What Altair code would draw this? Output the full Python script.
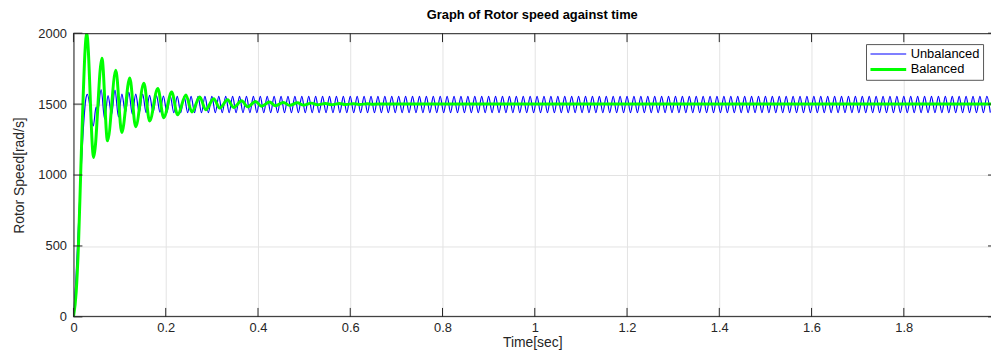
import altair as alt
import pandas as pd

# ---------------- data ----------------
series_names = ["Unbalanced", "Balanced"]
series_colors = ["#0000ff", "#00ff00"]
series_widths = [1.2, 3]

x_ticks = [0, 0.2, 0.4, 0.6, 0.8, 1.0, 1.2, 1.4, 1.6, 1.8]
y_ticks = [0, 500, 1000, 1500, 2000]

# Balanced (green): damped oscillation settling at 1500
green_t = [0, 0.006, 0.011, 0.016, 0.021, 0.025, 0.0287,
           0.0437, 0.0617, 0.0738, 0.0918, 0.1047, 0.1220, 0.1348, 0.1527,
           0.1650, 0.1828, 0.1957, 0.2129, 0.2258, 0.2437, 0.2566, 0.2738,
           0.2867, 0.3040, 0.3170, 0.3342, 0.3472, 0.3645, 0.3775, 0.3948,
           0.4078, 0.4250, 0.4380, 0.4553, 0.4683, 0.4856, 0.4986, 0.5158,
           0.5288, 0.5461, 0.5591, 0.5764, 0.5894, 0.6066, 0.6197, 0.6369,
           0.6500, 0.6672, 0.7000, 1.9890]
green_v = [0, 180, 520, 1050, 1550, 1870, 2000,
           1124, 1824, 1241, 1738, 1299, 1684, 1341, 1647,
           1381, 1610, 1404, 1585, 1425, 1565, 1445, 1550,
           1460, 1538, 1472, 1530, 1476, 1524, 1481, 1519,
           1485, 1515, 1488, 1512, 1491, 1509, 1493, 1507,
           1495, 1505, 1496, 1504, 1497, 1503, 1498, 1502,
           1499, 1501, 1500, 1500]

# Unbalanced (blue): start-up transient
blue_start_t = [0, 0.005, 0.009, 0.0165, 0.0225, 0.0265, 0.0300, 0.0430,
                0.0490, 0.0525, 0.0600, 0.0675, 0.0750, 0.0825, 0.0900,
                0.0975, 0.1050, 0.1125, 0.1200, 0.1275, 0.1350, 0.1425,
                0.1500, 0.1575, 0.1650, 0.1725, 0.1800, 0.1875, 0.1950,
                0.2025]
blue_start_v = [0, 250, 520, 1030, 1380, 1530, 1568, 1346,
                1480, 1450, 1603, 1395, 1560, 1425, 1598,
                1410, 1570, 1440, 1585, 1430, 1570, 1440,
                1570, 1440, 1562, 1443, 1560, 1443, 1557,
                1442]

# Unbalanced (blue): steady ripple, peaks and troughs
blue_steady_t = [
    0.2100, 0.2175, 0.2250, 0.2325, 0.2400, 0.2475, 0.2550, 0.2625,
    0.2700, 0.2775, 0.2850, 0.2925, 0.3000, 0.3075, 0.3150, 0.3225,
    0.3300, 0.3375, 0.3450, 0.3525, 0.3600, 0.3675, 0.3750, 0.3825,
    0.3900, 0.3975, 0.4050, 0.4125, 0.4200, 0.4275, 0.4350, 0.4425,
    0.4500, 0.4575, 0.4650, 0.4725, 0.4800, 0.4875, 0.4950, 0.5025,
    0.5100, 0.5175, 0.5250, 0.5325, 0.5400, 0.5475, 0.5550, 0.5625,
    0.5700, 0.5775, 0.5850, 0.5925, 0.6000, 0.6075, 0.6150, 0.6225,
    0.6300, 0.6375, 0.6450, 0.6525, 0.6600, 0.6675, 0.6750, 0.6825,
    0.6900, 0.6975, 0.7050, 0.7125, 0.7200, 0.7275, 0.7350, 0.7425,
    0.7500, 0.7575, 0.7650, 0.7725, 0.7800, 0.7875, 0.7950, 0.8025,
    0.8100, 0.8175, 0.8250, 0.8325, 0.8400, 0.8475, 0.8550, 0.8625,
    0.8700, 0.8775, 0.8850, 0.8925, 0.9000, 0.9075, 0.9150, 0.9225,
    0.9300, 0.9375, 0.9450, 0.9525, 0.9600, 0.9675, 0.9750, 0.9825,
    0.9900, 0.9975, 1.0050, 1.0125, 1.0200, 1.0275, 1.0350, 1.0425,
    1.0500, 1.0575, 1.0650, 1.0725, 1.0800, 1.0875, 1.0950, 1.1025,
    1.1100, 1.1175, 1.1250, 1.1325, 1.1400, 1.1475, 1.1550, 1.1625,
    1.1700, 1.1775, 1.1850, 1.1925, 1.2000, 1.2075, 1.2150, 1.2225,
    1.2300, 1.2375, 1.2450, 1.2525, 1.2600, 1.2675, 1.2750, 1.2825,
    1.2900, 1.2975, 1.3050, 1.3125, 1.3200, 1.3275, 1.3350, 1.3425,
    1.3500, 1.3575, 1.3650, 1.3725, 1.3800, 1.3875, 1.3950, 1.4025,
    1.4100, 1.4175, 1.4250, 1.4325, 1.4400, 1.4475, 1.4550, 1.4625,
    1.4700, 1.4775, 1.4850, 1.4925, 1.5000, 1.5075, 1.5150, 1.5225,
    1.5300, 1.5375, 1.5450, 1.5525, 1.5600, 1.5675, 1.5750, 1.5825,
    1.5900, 1.5975, 1.6050, 1.6125, 1.6200, 1.6275, 1.6350, 1.6425,
    1.6500, 1.6575, 1.6650, 1.6725, 1.6800, 1.6875, 1.6950, 1.7025,
    1.7100, 1.7175, 1.7250, 1.7325, 1.7400, 1.7475, 1.7550, 1.7625,
    1.7700, 1.7775, 1.7850, 1.7925, 1.8000, 1.8075, 1.8150, 1.8225,
    1.8300, 1.8375, 1.8450, 1.8525, 1.8600, 1.8675, 1.8750, 1.8825,
    1.8900, 1.8975, 1.9050, 1.9125, 1.9200, 1.9275, 1.9350, 1.9425,
    1.9500, 1.9575, 1.9650, 1.9725, 1.9800, 1.9875,
]
blue_steady_v = [
    1555, 1440, 1555, 1440, 1555, 1440, 1555, 1440,
    1555, 1440, 1555, 1440, 1555, 1440, 1555, 1440,
    1555, 1440, 1555, 1440, 1555, 1440, 1555, 1440,
    1555, 1440, 1555, 1440, 1555, 1440, 1555, 1440,
    1555, 1440, 1555, 1440, 1555, 1440, 1555, 1440,
    1555, 1440, 1555, 1440, 1555, 1440, 1555, 1440,
    1555, 1440, 1555, 1440, 1555, 1440, 1555, 1440,
    1555, 1440, 1555, 1440, 1555, 1440, 1555, 1440,
    1555, 1440, 1555, 1440, 1555, 1440, 1555, 1440,
    1555, 1440, 1555, 1440, 1555, 1440, 1555, 1440,
    1555, 1440, 1555, 1440, 1555, 1440, 1555, 1440,
    1555, 1440, 1555, 1440, 1555, 1440, 1555, 1440,
    1555, 1440, 1555, 1440, 1555, 1440, 1555, 1440,
    1555, 1440, 1555, 1440, 1555, 1440, 1555, 1440,
    1555, 1440, 1555, 1440, 1555, 1440, 1555, 1440,
    1555, 1440, 1555, 1440, 1555, 1440, 1555, 1440,
    1555, 1440, 1555, 1440, 1555, 1440, 1555, 1440,
    1555, 1440, 1555, 1440, 1555, 1440, 1555, 1440,
    1555, 1440, 1555, 1440, 1555, 1440, 1555, 1440,
    1555, 1440, 1555, 1440, 1555, 1440, 1555, 1440,
    1555, 1440, 1555, 1440, 1555, 1440, 1555, 1440,
    1555, 1440, 1555, 1440, 1555, 1440, 1555, 1440,
    1555, 1440, 1555, 1440, 1555, 1440, 1555, 1440,
    1555, 1440, 1555, 1440, 1555, 1440, 1555, 1440,
    1555, 1440, 1555, 1440, 1555, 1440, 1555, 1440,
    1555, 1440, 1555, 1440, 1555, 1440, 1555, 1440,
    1555, 1440, 1555, 1440, 1555, 1440, 1555, 1440,
    1555, 1440, 1555, 1440, 1555, 1440, 1555, 1440,
    1555, 1440, 1555, 1440, 1555, 1440, 1555, 1440,
    1555, 1440, 1555, 1440, 1555, 1440,
]

# ---------------- tables ----------------
blue_df = pd.DataFrame({"t": blue_start_t + blue_steady_t,
                        "v": blue_start_v + blue_steady_v,
                        "series": series_names[0]})
green_df = pd.DataFrame({"t": green_t, "v": green_v, "series": series_names[1]})
xt_df = pd.DataFrame({"t": x_ticks})
yt_df = pd.DataFrame({"v": y_ticks})
one_df = pd.DataFrame({"k": [0]})

# ---------------- styling ----------------
W, H = 925, 286
FONT = "Liberation Sans"
AX = "#262626"

xscale = alt.Scale(domain=[0, 1.989], nice=False, zero=False)
yscale = alt.Scale(domain=[0, 2000], nice=False)

xaxis = alt.Axis(values=x_ticks, format=".1~f", ticks=False, domain=False,
                 grid=True, gridColor="#e3e3e3", gridWidth=1,
                 labelFont=FONT, labelFontSize=13, labelColor=AX,
                 labelPadding=5, labelFlush=False,
                 title="Time[sec]", titleFont=FONT, titleFontSize=14,
                 titleFontWeight="normal", titleColor=AX,
                 titleBaseline="alphabetic", titleY=30)
yaxis = alt.Axis(values=y_ticks, format="d", ticks=False, domain=False,
                 grid=True, gridColor="#e3e3e3", gridWidth=1,
                 labelFont=FONT, labelFontSize=13, labelColor=AX,
                 labelPadding=7, labelFlush=False,
                 title="Rotor Speed[rad/s]", titleFont=FONT, titleFontSize=14,
                 titleFontWeight="normal", titleColor=AX, titlePadding=11)

x_enc = alt.X("t:Q", scale=xscale, axis=xaxis)
y_enc = alt.Y("v:Q", scale=yscale, axis=yaxis)

legend = alt.Legend(title=None, orient="none", legendX=799, legendY=11,
                    symbolType="M-1,0H5", symbolSize=144,
                    labelFont=FONT, labelFontSize=13, labelColor="#000",
                    labelOffset=27, strokeColor="#555555", fillColor="white",
                    padding=3, rowPadding=1)
color_enc = alt.Color("series:N",
                      scale=alt.Scale(domain=series_names, range=series_colors),
                      legend=legend)
sw_enc = alt.StrokeWidth("series:N",
                         scale=alt.Scale(domain=series_names, range=series_widths),
                         legend=legend)

blue_line = alt.Chart(blue_df).mark_line(interpolate="monotone", clip=True).encode(
    x=x_enc, y=y_enc, color=color_enc, strokeWidth=sw_enc)
green_line = alt.Chart(green_df).mark_line(interpolate="monotone", clip=True).encode(
    x=x_enc, y=y_enc, color=color_enc, strokeWidth=sw_enc)

rule_style = dict(color=AX, strokeWidth=1)
top_border = alt.Chart(one_df).mark_rule(**rule_style).encode(
    x=alt.value(0), x2=alt.value(W), y=alt.value(0.5))
bottom_border = alt.Chart(one_df).mark_rule(**rule_style).encode(
    x=alt.value(0), x2=alt.value(W), y=alt.value(H - 0.5))
left_border = alt.Chart(one_df).mark_rule(**rule_style).encode(
    x=alt.value(0.5), y=alt.value(0), y2=alt.value(H))

bottom_ticks = alt.Chart(xt_df).mark_rule(**rule_style).encode(
    x=x_enc, y=alt.value(H), y2=alt.value(H - 9))
top_ticks = alt.Chart(xt_df).mark_rule(**rule_style).encode(
    x=x_enc, y=alt.value(0), y2=alt.value(9))
left_ticks = alt.Chart(yt_df).mark_rule(**rule_style).encode(
    y=y_enc, x=alt.value(0), x2=alt.value(9))
right_ticks = alt.Chart(yt_df).mark_rule(**rule_style).encode(
    y=y_enc, x=alt.value(W - 3), x2=alt.value(W))

chart = alt.layer(
    blue_line, green_line,
    top_border, bottom_border, left_border,
    bottom_ticks, top_ticks, left_ticks, right_ticks,
).properties(
    width=W, height=H,
    title=alt.TitleParams(text="Graph of Rotor speed against time",
                          font=FONT, fontSize=13, fontWeight="bold",
                          color="#000", anchor="middle", offset=5,
                          frame="group"),
    autosize=alt.AutoSizeParams(type="none"),
    padding={"left": 66, "top": 24, "right": 0, "bottom": 32},
).configure_view(strokeWidth=0).configure(background="white")

chart.save("out.html", embed_options={"renderer": "svg", "actions": False})
